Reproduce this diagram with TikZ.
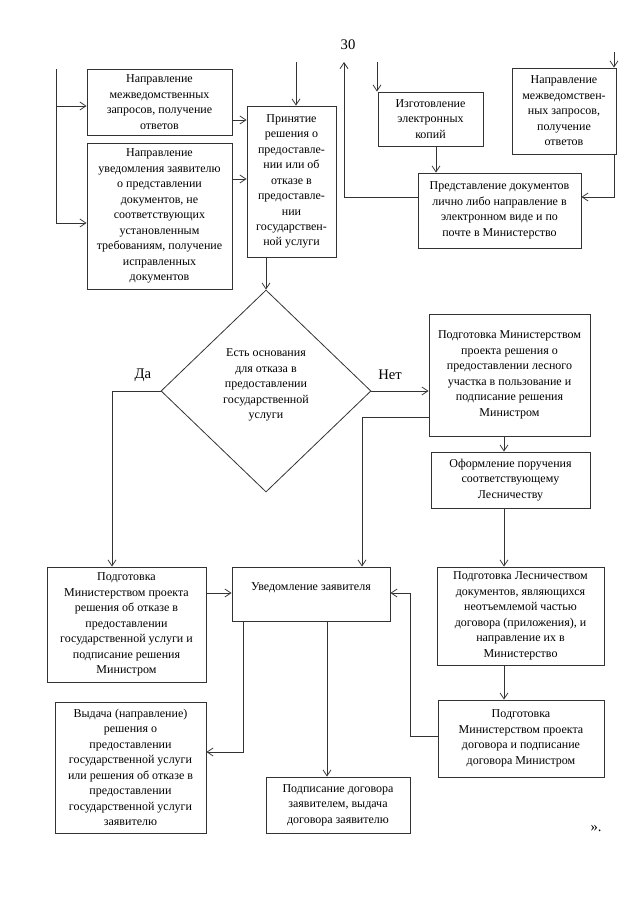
\documentclass[tikz,border=0pt]{standalone}
\usepackage{fontspec}
\setmainfont{Liberation Serif}
\usetikzlibrary{arrows.meta,shapes.geometric}
\begin{document}
\begin{tikzpicture}[x=0.75pt,y=-0.75pt,
  box/.style={draw=black!80, line width=0.6pt, align=center, inner sep=0pt,
    font=\fontsize{9}{11.6}\selectfont},
  sz/.style 2 args={minimum width=#1*0.75pt, minimum height=#2*0.75pt},
  arr/.style={draw=black!80, line width=0.6pt, -{Straight Barb[length=4.5pt,width=6pt]}},
  ln/.style={draw=black!80, line width=0.6pt},
  lbl/.style={font=\fontsize{11}{13}\selectfont, inner sep=0pt}]
\useasboundingbox (0,0) rectangle (640,905);

% boxes
\node[box,sz={145}{66}] (A) at (159.5,102) {Направление\\межведомственных\\запросов, получение\\ответов};
\node[box,sz={145}{146}] (B) at (159.5,216) {Направление\\уведомления заявителю\\о представлении\\документов, не\\соответствующих\\установленным\\требованиям, получение\\исправленных\\документов};
\node[box,sz={89}{151}] (C) at (291.5,181.5) {Принятие\\решения о\\предоставле-\\нии или об\\отказе в\\предоставле-\\нии\\государствен-\\ной услуги};
\node[box,sz={105}{54}] (L) at (430.5,119) {Изготовление\\электронных\\копий};
\node[box,sz={104}{86}] (M) at (564,111) {Направление\\межведомствен-\\ных запросов,\\получение\\ответов};
\node[box,sz={163}{75}] (K) at (499.5,210.5) {Представление документов\\лично либо направление в\\электронном виде и по\\почте в Министерство};
\node[draw=black!80, line width=0.6pt, diamond, inner sep=0pt, sz={210}{202}] (Q) at (266,391) {};
\node[box, draw=none] (Qt) at (266,385) {Есть основания\\для отказа в\\предоставлении\\государственной\\услуги};
\node[box,sz={161}{122}] (E) at (509.5,375) {Подготовка Министерством\\проекта решения о\\предоставлении лесного\\участка в пользование и\\подписание решения\\Министром};
\node[box,sz={159}{56}] (F) at (510.5,480) {Оформление поручения\\соответствующему\\Лесничеству};
\node[box,sz={167}{98}] (G) at (520.5,616) {Подготовка Лесничеством\\документов, являющихся\\неотъемлемой частью\\договора (приложения), и\\направление их в\\Министерство};
\node[box,sz={166}{77}] (H) at (521,738.5) {Подготовка\\Министерством проекта\\договора и подписание\\договора Министром};
\node[box,sz={159}{115}] (D) at (126.5,624.5) {Подготовка\\Министерством проекта\\решения об отказе в\\предоставлении\\государственной услуги и\\подписание решения\\Министром};
\node[box,sz={158}{54}] (U) at (311,594) {Уведомление заявителя\\\mbox{}};
\node[box,sz={151}{131}] (I) at (130.5,767.5) {Выдача (направление)\\решения о\\предоставлении\\государственной услуги\\или решения об отказе в\\предоставлении\\государственной услуги\\заявителю};
\node[box,sz={144}{56}] (J) at (338,805) {Подписание договора\\заявителем, выдача\\договора заявителю};

% labels
\node[lbl] (pg) at (348,45) {30};
\node[lbl] (da) at (143,375) {Да};
\node[lbl] (net) at (390,375) {Нет};
\node[lbl] (end) at (596,829) {».};

% free ends
\coordinate (l1) at (56,69);
\coordinate (l2) at (56,223);
\coordinate (ct) at (296,62);
\coordinate (lt) at (377,62);
\coordinate (mt) at (614,52);
\coordinate (up) at (344,62);

% left bracket
\draw[ln] (l1) -- (l2);
\draw[arr] (56,106) -- (A.west |- 0,106);
\draw[arr] (l2) -- (B.west |- l2);
\draw[arr] (A.east |- 0,120) -- (C.west |- 0,120);
\draw[arr] (B.east |- 0,179) -- (C.west |- 0,179);
\draw[arr] (ct) -- (ct |- C.north);
\draw[arr] (C.south -| Q.north) -- (Q.north);

% top right
\draw[arr] (lt) -- (lt |- L.north);
\draw[arr] (L.south -| 436,0) -- (K.north -| 436,0);
\draw[arr] (K.west |- 0,197) -| (up);
\draw[arr] (mt) -- (mt |- M.north);
\draw[arr] (M.south -| mt) |- (K.east |- 0,197);

% decision
\draw[arr] (Q.west) -| (D.north -| 112,0);
\draw[arr] (Q.east) -- (Q.east -| E.west);
\draw[arr] (E.west |- 0,417) -| (U.north -| 362,0);

% right column
\draw[arr] (E.south -| 504,0) -- (F.north -| 504,0);
\draw[arr] (F.south -| 504,0) -- (G.north -| 504,0);
\draw[arr] (G.south -| 504,0) -- (H.north -| 504,0);
\draw[arr] (H.west |- 0,736) -| (410,593) -- (U.east |- 0,593);

% bottom
\draw[arr] (D.east |- 0,593) -- (U.west |- 0,593);
\draw[arr] (U.south -| 243,0) |- (I.east |- 0,752);
\draw[arr] (U.south -| 327,0) -- (J.north -| 327,0);
\end{tikzpicture}
\end{document}
